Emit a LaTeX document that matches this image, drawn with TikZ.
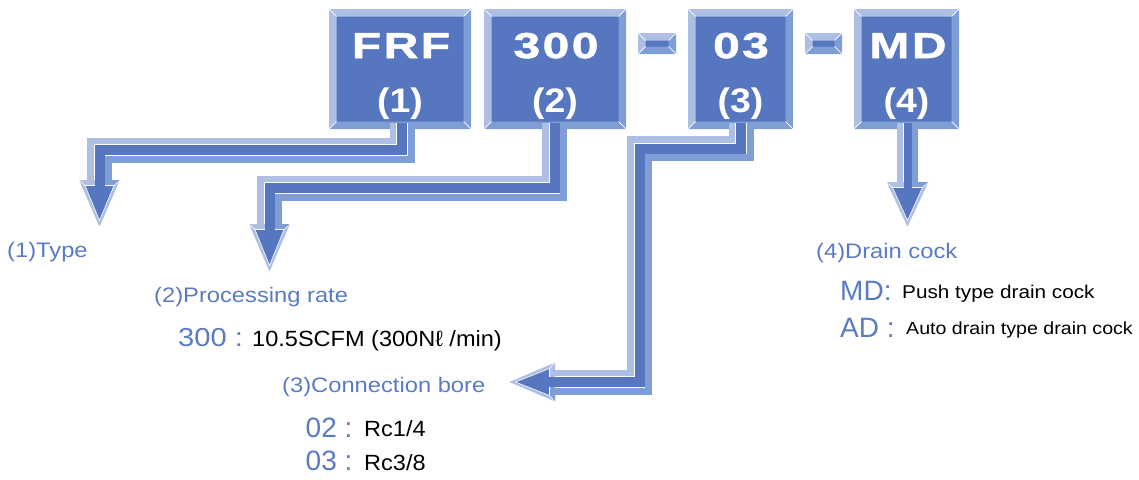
\documentclass[tikz,border=0pt]{standalone}
\usepackage{fontspec}
\setmainfont{Liberation Sans}
\newfontfamily\boxfont[FakeStretch=1.33,LetterSpace=7,BoldFeatures={FakeBold=1.6}]{Liberation Sans}
\newfontfamily\numfont[FakeStretch=1.1]{Liberation Sans}
\newfontfamily\lblfont[FakeStretch=1.13]{Liberation Sans}
\newfontfamily\codefontA[FakeStretch=1.12]{Liberation Sans}
\newfontfamily\codefont{Liberation Sans}
\newfontfamily\descfont[FakeStretch=1.07]{Liberation Sans}
\newfontfamily\descfontB[FakeStretch=1.12]{Liberation Sans}
\usetikzlibrary{calc}
\definecolor{face}{HTML}{5677BF}
\definecolor{lite}{HTML}{AEBFE3}
\definecolor{mid}{HTML}{7F9ED6}
\definecolor{lbl}{HTML}{5A7BC1}
% #1 plain path, #2 medium path (offset), #3 full width, #4 medium width, #5 dark width
\newcommand\strip[5]{%
  \draw[lite,line width=#3] #1;
  \draw[mid,line width=#4] #2;
  \draw[white,line width=#5+1.2pt] #1;
  \draw[face,line width=#5] #1;
}
\newcommand\downhead[4]{% coord, half width, length, half dark
\begin{scope}[shift={(#1)}]
  \fill[lite] (-#2,0) -- (#2,0) -- (0,#3) -- cycle;
  \fill[mid] (#4,0) -- (#2,0) -- (#2-6.5,5.5) -- (#4,5.5) -- cycle;
  \fill[face] (-#2+6.5,5.5) -- (#2-6.5,5.5) -- (0,#3-7.5) -- cycle;
  \draw[white,line width=0.8pt] (-#2,0) -- (0,#3) -- (#2,0);
  \draw[white,line width=0.6pt] (-#2+6.5,5.5) -- (0,#3-7.5) -- (#2-6.5,5.5) -- cycle
     (-#2,0) -- (-#2+6.5,5.5) (#2,0) -- (#2-6.5,5.5);
  \fill[face] (-#4,-0.5) rectangle (#4,6);
\end{scope}}
\newcommand\lefthead[3]{%
\begin{scope}[shift={(#1)}]
  \fill[lite] (0,-#2) -- (0,#2) -- (-#3,0) -- cycle;
  \fill[mid] (0,5) -- (0,#2) -- (-5.5,#2-6.5) -- (-5.5,5) -- cycle;
  \fill[face] (-5.5,-#2+6.5) -- (-5.5,#2-6.5) -- (-#3+7.5,0) -- cycle;
  \draw[white,line width=0.8pt] (0,-#2) -- (-#3,0) -- (0,#2);
  \draw[white,line width=0.6pt] (-5.5,-#2+6.5) -- (-#3+7.5,0) -- (-5.5,#2-6.5) -- cycle
     (0,-#2) -- (-5.5,-#2+6.5) (0,#2) -- (-5.5,#2-6.5);
  \fill[face] (0.5,-5) rectangle (-6,5);
\end{scope}}
\tikzset{
  bev/.style={fill=face, inner sep=0pt, outer sep=0pt, minimum height=#1,
    path picture={
      \path (path picture bounding box.north west) coordinate (ppnw)
            (path picture bounding box.south east) coordinate (ppse);
      \path (ppse |- ppnw) coordinate (ppne) (ppnw |- ppse) coordinate (ppsw);
      \fill[lite] (ppnw) -- (ppne) -- ($(ppne)+(-7.5pt,-7.5pt)$) -- ($(ppnw)+(7.5pt,-7.5pt)$) -- cycle;
      \fill[lite] (ppnw) -- ($(ppnw)+(7.5pt,-7.5pt)$) -- ($(ppsw)+(7.5pt,7.5pt)$) -- (ppsw) -- cycle;
      \fill[mid] (ppne) -- (ppse) -- ($(ppse)+(-7.5pt,7.5pt)$) -- ($(ppne)+(-7.5pt,-7.5pt)$) -- cycle;
      \fill[mid] (ppsw) -- (ppse) -- ($(ppse)+(-7.5pt,7.5pt)$) -- ($(ppsw)+(7.5pt,7.5pt)$) -- cycle;
      \draw[white,line width=0.7pt] (ppnw) -- +(7.5pt,-7.5pt) (ppne) -- +(-7.5pt,-7.5pt)
          (ppsw) -- +(7.5pt,7.5pt) (ppse) -- +(-7.5pt,7.5pt);
    }},
  boxtxt/.style={text=white, anchor=base, inner sep=0pt, font=\boxfont\bfseries\fontsize{36pt}{40pt}\selectfont},
  boxnum/.style={text=white, anchor=base, inner sep=0pt, font=\numfont\bfseries\fontsize{34pt}{38pt}\selectfont},
  lab/.style={text=lbl, anchor=base west, inner sep=0pt, font=\lblfont\fontsize{21pt}{24pt}\selectfont},
  codeA/.style={text=lbl, anchor=base west, inner sep=0pt, font=\codefontA\fontsize{26pt}{28pt}\selectfont},
  code/.style={text=lbl, anchor=base west, inner sep=0pt, font=\codefont\fontsize{28pt}{30pt}\selectfont},
  desc/.style={text=black, anchor=base west, inner sep=0pt, font=\descfont\fontsize{22pt}{24pt}\selectfont},
  descB/.style={text=black, anchor=base west, inner sep=0pt, font=\descfontB\fontsize{18.5pt}{20pt}\selectfont},
  descC/.style={text=black, anchor=base west, inner sep=0pt, font=\descfontB\fontsize{17.5pt}{20pt}\selectfont},
}
\begin{document}
\begin{tikzpicture}[x=1pt,y=-1pt]
\useasboundingbox (0,0) rectangle (1139,479);
% boxes
\node[bev=120pt, minimum width=142pt] (b1) at (400,69) {};
\node[bev=120pt, minimum width=142pt] (b2) at (555,69) {};
\node[bev=21pt, minimum width=38pt] (d1) at (657,43.5) {};
\node[bev=120pt, minimum width=105pt] (b3) at (740.5,69) {};
\node[bev=21pt, minimum width=37pt] (d2) at (823.5,43.5) {};
\node[bev=120pt, minimum width=105pt] (b4) at (906.5,69) {};
% coordinates of the bent arrows
\coordinate (a1s) at (402,123);   \coordinate (a1c1) at (402,150);
\coordinate (a1c2) at (99.5,150); \coordinate (a1h) at (99.5,180);
\coordinate (a2s) at (554.5,123); \coordinate (a2c1) at (554.5,188);
\coordinate (a2c2) at (269.5,188);\coordinate (a2h) at (269.5,224);
\coordinate (a3s) at (741,123);   \coordinate (a3c1) at (741,148.5);
\coordinate (a3c2) at (639.5,148.5); \coordinate (a3c3) at (639.5,382);
\coordinate (a3h) at (555,382);
\coordinate (a4s) at (907.5,123);   \coordinate (a4h) at (907.5,182);
% arrow 1
\strip{(a1s) -- (a1c1) -- (a1c2) -- (a1h)}
      {($(a1s)+(3.75,0)$) -- ($(a1c1)+(3.75,3.75)$) -- ($(a1c2)+(3.75,3.75)$) -- ($(a1h)+(3.75,0)$)}
      {25pt}{17.5pt}{10pt}
\downhead{a1h}{21}{48}{5}
% arrow 2
\strip{(a2s) -- (a2c1) -- (a2c2) -- (a2h)}
      {($(a2s)+(3.75,0)$) -- ($(a2c1)+(3.75,3.75)$) -- ($(a2c2)+(3.75,3.75)$) -- ($(a2h)+(3.75,0)$)}
      {25pt}{17.5pt}{10pt}
\downhead{a2h}{21}{49}{5}
% arrow 3
\strip{(a3s) -- (a3c1) -- (a3c2) -- (a3c3) -- (a3h)}
      {($(a3s)+(3.75,0)$) -- ($(a3c1)+(3.75,3.75)$) -- ($(a3c2)+(3.75,3.75)$) -- ($(a3c3)+(3.75,3.75)$) -- ($(a3h)+(0,3.75)$)}
      {25pt}{17.5pt}{10pt}
\lefthead{a3h}{20}{47}
% arrow 4 (narrower stem)
\strip{(a4s) -- (a4h)}{($(a4s)+(3.25,0)$) -- ($(a4h)+(3.25,0)$)}{21pt}{14.5pt}{8pt}
\downhead{a4h}{21.5}{46}{4}
% box texts
\node[boxtxt] (t1) at (401,58) {FRF};
\node[boxnum] (n1) at (400,112) {(1)};
\node[boxtxt] (t2) at (556,58) {300};
\node[boxnum] (n2) at (555,112) {(2)};
\node[boxtxt] (t3) at (741,58) {03};
\node[boxnum] (n3) at (740.5,112) {(3)};
\node[boxtxt] (t4) at (908,58) {MD};
\node[boxnum] (n4) at (906.5,112) {(4)};
% labels
\node[lab] (l1) at (7,257) {(1)Type};
\node[lab] (l2) at (154,302) {(2)Processing rate};
\node[codeA] (c300) at (178,346) {300 :};
\node[desc] (e300) at (252,346) {10.5SCFM (300Nℓ /min)};
\node[lab] (l3) at (282,392) {(3)Connection bore};
\node[code] (c02) at (305.5,437) {02 :};
\node[desc] (e02) at (364,436) {Rc1/4};
\node[code] (c03) at (305.5,470) {03 :};
\node[desc] (e03) at (364,470) {Rc3/8};
\node[lab] (l4) at (816,258) {(4)Drain cock};
\node[code] (cmd) at (840,300) {MD:};
\node[descB] (emd) at (902,298) {Push type drain cock};
\node[code] (cad) at (840,337) {AD :};
\node[descC] (ead) at (906,334) {Auto drain type drain cock};
\end{tikzpicture}
\end{document}
